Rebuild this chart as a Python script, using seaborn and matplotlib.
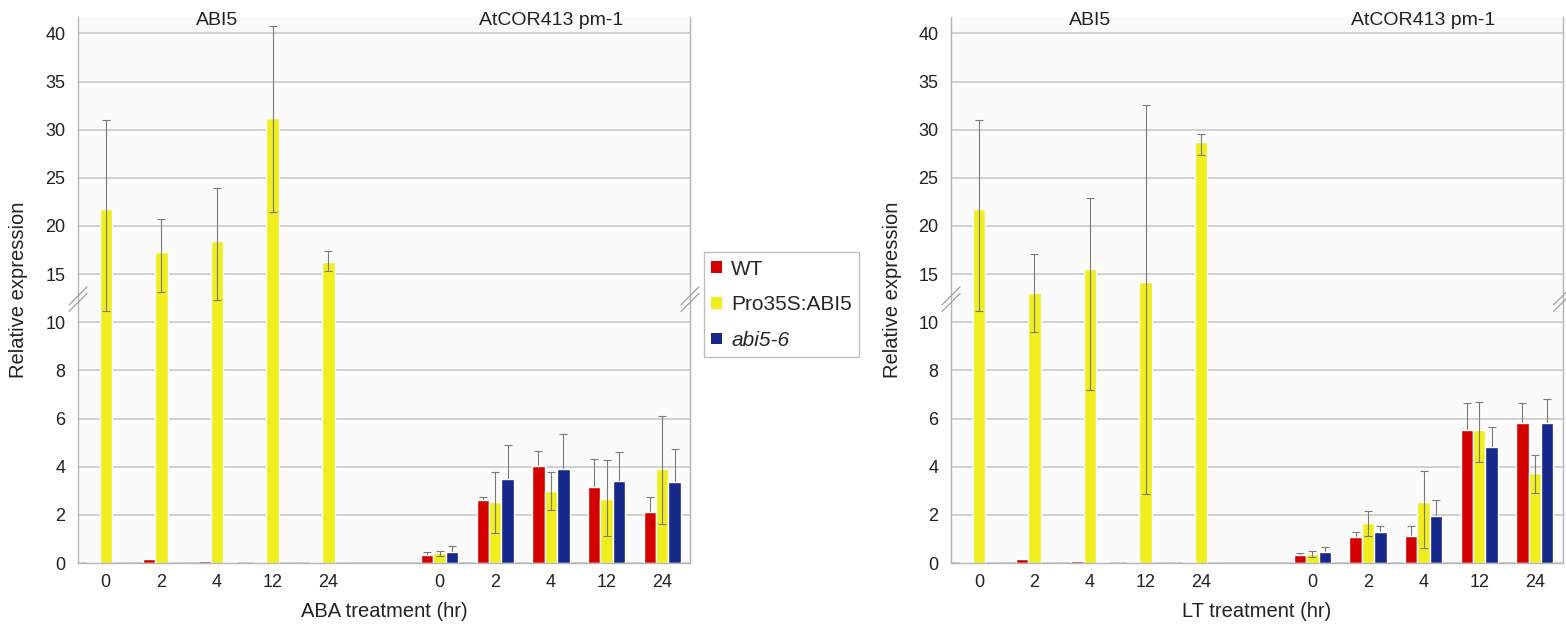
import numpy as np
import pandas as pd
import matplotlib
matplotlib.use("Agg")
import matplotlib.pyplot as plt
import seaborn as sns
from matplotlib.patches import Patch

# categories
times = ["0", "2", "4", "12", "24"]
genes = ["ABI5", "AtCOR413 pm-1"]
genotypes = ["WT", "Pro35S:ABI5", "abi5-6"]
colors = ["#d40000", "#f0ee1e", "#16288a"]

# ABA treatment: five ABI5 time points, then five AtCOR413 pm-1 time points
aba_wt = [0.05, 0.15, 0.1, 0.05, 0.05, 0.32, 2.6, 4.04, 3.15, 2.12]
aba_wt_err = [0, 0, 0, 0, 0, 0.14, 0.16, 0.62, 1.18, 0.61]
aba_ox = [21.8, 17.3, 18.4, 31.2, 16.3, 0.40, 2.55, 3.0, 2.66, 3.9]
aba_ox_lo = [10.6, 4.2, 6.1, 9.7, 1.0, 0.12, 1.3, 0.78, 1.55, 2.28]
aba_ox_hi = [9.2, 3.4, 5.5, 9.6, 1.1, 0.12, 1.25, 0.8, 1.6, 2.21]
aba_abi = [0.02, 0, 0.05, 0, 0, 0.46, 3.5, 3.9, 3.42, 3.35]
aba_abi_err = [0, 0, 0, 0, 0, 0.23, 1.4, 1.47, 1.2, 1.39]

# LT treatment
lt_wt = [0.03, 0.15, 0.1, 0.05, 0.05, 0.32, 1.1, 1.12, 5.52, 5.83]
lt_wt_err = [0, 0, 0, 0, 0, 0.11, 0.18, 0.4, 1.11, 0.8]
lt_ox = [21.8, 13.0, 15.5, 14.2, 28.7, 0.36, 1.66, 2.55, 5.52, 3.72]
lt_ox_lo = [10.6, 3.4, 8.3, 11.35, 1.3, 0.12, 0.54, 1.93, 1.32, 0.82]
lt_ox_hi = [9.2, 4.1, 7.4, 18.4, 0.9, 0.14, 0.49, 1.27, 1.17, 0.78]
lt_abi = [0.02, 0, 0.03, 0, 0, 0.46, 1.28, 1.95, 4.83, 5.83]
lt_abi_err = [0, 0, 0, 0, 0, 0.2, 0.24, 0.68, 0.8, 0.97]

yticks = [0, 2, 4, 6, 8, 10, 15, 20, 25, 30, 35, 40]

sns.set_style("white")
plt.rcParams["font.family"] = ["Liberation Sans", "DejaVu Sans"]

slots = [g + "|" + t for g in genes for t in times]
order = slots[:5] + ["gap"] + slots[5:]


# broken axis: 0-10 in steps of 2, then 10-40 in steps of 5, same spacing
def fwd(y):
    y = np.asarray(y, dtype=float)
    return np.where(y <= 10, y / 2, 5 + (y - 10) / 5)


def inv(u):
    u = np.asarray(u, dtype=float)
    return np.where(u <= 5, u * 2, 10 + (u - 5) * 5)


def draw_panel(ax, wt, wt_err, ox, ox_lo, ox_hi, abi, abi_err, xlabel, ylab_x):
    df = pd.DataFrame({
        "slot": slots * 3,
        "genotype": np.repeat(genotypes, len(slots)),
        "value": wt + ox + abi,
    })
    sns.barplot(data=df, x="slot", y="value", hue="genotype", order=order,
                hue_order=genotypes, palette=colors, saturation=1,
                width=0.67, gap=0, errorbar=None, legend=False, ax=ax)
    ax.set_yscale("function", functions=(fwd, inv))
    ax.set_ylim(0, 41.7)
    ax.set_xlim(-0.5, len(order) - 0.5)

    # yellow whiskers show on top of the bar, red/blue ones sit behind it
    errs = [(wt_err, wt_err, 0.9), (ox_lo, ox_hi, 5), (abi_err, abi_err, 0.9)]
    for cont, (lo, hi, z) in zip(ax.containers, errs):
        xs = [b.get_x() + b.get_width() / 2 for b in cont]
        hs = [b.get_height() for b in cont]
        for x, h, l, u in zip(xs, hs, lo, hi):
            if l == 0 and u == 0:
                continue
            ax.errorbar(x, h, yerr=[[l], [u]], fmt="none", ecolor="#7a7a7a",
                        elinewidth=0.8, capsize=3, capthick=0.8, zorder=z)

    ax.set_yticks(yticks)
    ax.set_yticklabels([str(t) for t in yticks])
    ax.set_xticks(range(len(order)))
    ax.set_xticklabels(times + [""] + times)
    ax.yaxis.grid(True, color="#c9c9c9", lw=1.2)
    ax.set_axisbelow(True)
    ax.set_facecolor("#fbfbfb")
    ax.tick_params(axis="y", length=5, color="#b0b0b0", labelsize=13,
                   labelcolor="#222222", pad=4)
    ax.tick_params(axis="x", length=0, labelsize=13, labelcolor="#222222",
                   pad=8)
    ax.spines["top"].set_visible(False)
    for s in ["left", "right", "bottom"]:
        ax.spines[s].set_color("#b5b5b5")
        ax.spines[s].set_linewidth(1.0)

    ax.set_ylabel("Relative expression", fontsize=14.5, color="#222222")
    ax.set_xlabel(xlabel, fontsize=14.5, color="#222222")
    ax.yaxis.set_label_coords(ylab_x, 0.5)
    ax.xaxis.set_label_coords(0.5, -0.071)

    ax.text(2, 41.35, genes[0], ha="center", va="center", fontsize=14,
            color="#222222")
    ax.text(8, 41.35, genes[1], ha="center", va="center", fontsize=14,
            color="#222222")

    # axis break marks on both spines
    yb = float(fwd(12.4) / fwd(41.7))
    dx, dy = 9 / 612, 9 / 546
    for xb in (0, 1):
        for off in (-0.006, 0.006):
            ax.plot([xb - dx, xb + dx], [yb - dy + off, yb + dy + off],
                    transform=ax.transAxes, color="#a0a0a0", lw=0.9,
                    clip_on=False, zorder=6)


fig = plt.figure(figsize=(15.66, 6.26), dpi=100)
fig.patch.set_facecolor("white")
ax1 = fig.add_axes([0.0498, 0.1006, 0.3908, 0.8722])
ax2 = fig.add_axes([0.6073, 0.1006, 0.3905, 0.8722])

draw_panel(ax1, aba_wt, aba_wt_err, aba_ox, aba_ox_lo, aba_ox_hi,
           aba_abi, aba_abi_err, "ABA treatment (hr)", -0.082)
draw_panel(ax2, lt_wt, lt_wt_err, lt_ox, lt_ox_lo, lt_ox_hi,
           lt_abi, lt_abi_err, "LT treatment (hr)", -0.080)

handles = [Patch(facecolor=c, edgecolor="none") for c in colors]
leg = fig.legend(handles, genotypes, loc="upper left",
                 bbox_to_anchor=(0.4496, 0.597), frameon=True, fancybox=False,
                 fontsize=15, handlelength=0.5, handleheight=0.5,
                 handletextpad=0.45, labelspacing=0.8, borderpad=0.35,
                 borderaxespad=0)
leg.get_frame().set_edgecolor("#b0b0b0")
leg.get_frame().set_linewidth(1.0)
leg.get_texts()[2].set_fontstyle("italic")

fig.savefig("out.png", dpi=100, facecolor="white")
